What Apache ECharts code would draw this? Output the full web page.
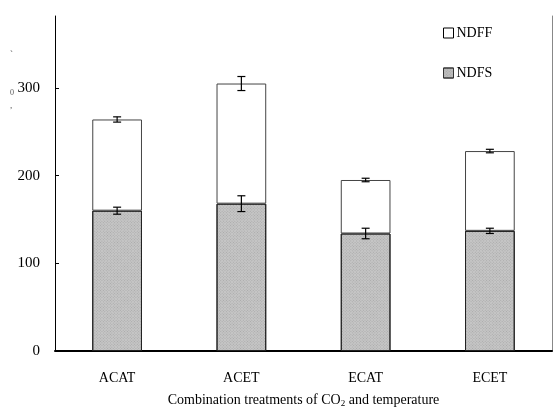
<!DOCTYPE html>
<html><head><meta charset="utf-8">
<script src="https://cdn.jsdelivr.net/npm/echarts@6/dist/echarts.min.js"></script>
<style>html,body{margin:0;padding:0;background:#fff}#c{width:553px;height:407px}</style>
</head><body><div id="c"></div>
<script>
var categories = ['ACAT', 'ACET', 'ECAT', 'ECET'];
var ndfs = [160, 168, 134, 137];
var ndff = [104, 137, 61, 91];
var ndfsErr = [4, 9, 6, 3];
var totalErr = [3, 8, 2, 2];
var yTicks = [0, 100, 200, 300];

var serif = '"Liberation Serif", "DejaVu Serif", serif';
var chart = echarts.init(document.getElementById('c'));

var errData = [];
for (var i = 0; i < categories.length; i++) {
  errData.push([i, ndfs[i], ndfsErr[i]]);
  errData.push([i, ndfs[i] + ndff[i], totalErr[i]]);
}

chart.setOption({
  animation: false,
  textStyle: { fontFamily: serif },
  grid: { left: 55, right: 1, top: 16, bottom: 56, containLabel: false, outerBoundsMode: 'none' },
  legend: {
    orient: 'vertical', left: 438, top: 21, itemGap: 26,
    itemWidth: 10, itemHeight: 10, icon: 'rect',
    textStyle: { fontFamily: serif, fontSize: 14, color: '#000', padding: [0, 0, 0, -2] },
    data: [
      { name: 'NDFF', itemStyle: { color: '#fff', borderColor: '#000', borderWidth: 1 } },
      { name: 'NDFS', itemStyle: { color: '#bdbdbd', borderColor: '#333', borderWidth: 1 } }
    ]
  },
  xAxis: {
    type: 'category', data: categories, boundaryGap: true,
    axisLine: { lineStyle: { color: '#000', width: 2 } },
    axisTick: { inside: true, length: 4, lineStyle: { color: '#000' } },
    axisLabel: { fontFamily: serif, fontSize: 14, color: '#000', margin: 20 },
    name: '{a|Combination treatments of CO}{s|2}{a| and temperature}',
    nameLocation: 'middle', nameGap: 42,
    nameTextStyle: {
      rich: {
        a: { fontFamily: serif, fontSize: 14, color: '#000' },
        s: { fontFamily: serif, fontSize: 9, color: '#000', verticalAlign: 'bottom', padding: [6, 0, 0, 0] }
      }
    }
  },
  yAxis: [{
    type: 'value', min: 0, max: 382,
    splitLine: { show: false },
    axisLine: { show: true, lineStyle: { color: '#000', width: 1 } },
    axisTick: { show: true, inside: true, length: 4, customValues: yTicks, lineStyle: { color: '#000' } },
    axisLabel: { fontFamily: serif, fontSize: 15, color: '#000', margin: 15, customValues: yTicks }
  }, {
    type: 'value', min: 0, max: 382, position: 'right',
    splitLine: { show: false },
    axisLine: { show: true, lineStyle: { color: '#888', width: 1 } },
    axisTick: { show: false }, axisLabel: { show: false }
  }],
  graphic: [
    { type: 'text', left: 10, top: 50, style: { text: '`', fontSize: 9, fill: '#555', fontFamily: serif } },
    { type: 'text', left: 10, top: 89, style: { text: '0', fontSize: 8, fill: '#555', fontFamily: serif } },
    { type: 'text', left: 10, top: 101, style: { text: ',', fontSize: 9, fill: '#555', fontFamily: serif } }
  ],
  series: [
    {
      name: 'NDFS', type: 'bar', stack: 'a', data: ndfs, barWidth: '40%',
      itemStyle: {
        color: '#c6c6c6', borderColor: '#222', borderWidth: 1,
        decal: { symbol: 'rect', symbolSize: 1, dashArrayX: [1, 1], dashArrayY: [1, 1], color: 'rgba(150,150,150,0.6)', rotation: 0.785 }
      }
    },
    {
      name: 'NDFF', type: 'bar', stack: 'a', data: ndff, barWidth: '40%',
      itemStyle: { color: '#fff', borderColor: '#444', borderWidth: 1 }
    },
    {
      type: 'custom', data: errData, z: 10, silent: true,
      renderItem: function (params, api) {
        var x = api.value(0), y = api.value(1), e = api.value(2);
        var hi = api.coord([x, y + e]);
        var lo = api.coord([x, y - e]);
        var w = 4;
        var st = { stroke: '#000', lineWidth: 1.2 };
        return {
          type: 'group',
          children: [
            { type: 'line', shape: { x1: hi[0], y1: hi[1], x2: lo[0], y2: lo[1] }, style: st },
            { type: 'line', shape: { x1: hi[0] - w, y1: hi[1], x2: hi[0] + w, y2: hi[1] }, style: st },
            { type: 'line', shape: { x1: lo[0] - w, y1: lo[1], x2: lo[0] + w, y2: lo[1] }, style: st }
          ]
        };
      }
    }
  ]
});
</script>
</body></html>
